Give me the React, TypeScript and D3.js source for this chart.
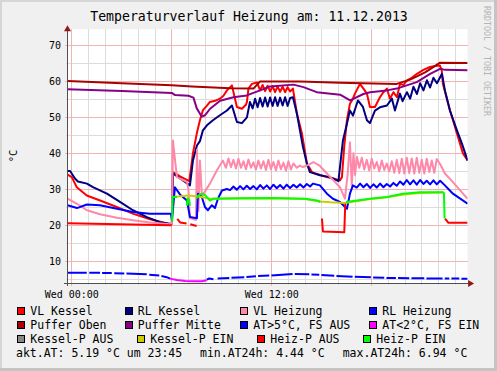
import React from 'react';
import * as d3 from 'd3';

// [hour since 11.12. 00:00, value] - null marks a gap (unknown)
type Pt = [number, number | null];

const title = 'Temperaturverlauf Heizung am: 11.12.2013';
const yTitle = '°C';
const watermark = 'RRDTOOL / TOBI OETIKER';
const timeDomain: [number, number] = [-0.25, 23.75]; // 10.12. 23:45 .. 11.12. 23:45
const valueDomain: [number, number] = [3.9, 74.5];
const yMajor = [10, 20, 30, 40, 50, 60, 70];
const xLabels: [number, string][] = [[0, 'Wed 00:00'], [12, 'Wed 12:00']];

const vlKessel: Pt[] = [
  [-0.25, 34.1], [0.0, 33.4], [0.3, 30.6], [0.9, 28.3], [1.7, 26.9], [2.7, 25.1], [3.7, 23.2], [4.7, 21.7],
  [5.9, 20.3], [6.0, 20.4], [6.07, 34.8], [6.5, 33.6], [7.05, 32.3], [7.27, 40.0], [7.5, 45.5], [7.69, 49.2],
  [7.87, 52.0], [8.1, 53.2], [8.29, 54.3], [8.6, 54.6], [8.89, 55.2], [9.1, 56.0], [9.31, 57.5], [9.61, 58.9],
  [9.75, 56.0], [9.91, 52.9], [10.21, 52.4], [10.45, 53.5], [10.51, 54.3], [10.6, 58.0], [10.81, 59.3],
  [11.11, 59.7], [11.3, 57.5], [11.45, 59.0], [11.6, 57.3], [11.75, 58.8], [11.9, 57.2], [12.05, 58.7],
  [12.2, 57.0], [12.35, 58.6], [12.5, 57.1], [12.65, 58.5], [12.8, 57.0], [12.95, 58.4], [13.1, 57.2],
  [13.27, 58.0], [13.51, 51.0], [13.81, 45.5], [14.11, 37.2], [14.41, 34.8], [14.9, 34.0], [15.31, 33.4],
  [15.7, 33.0], [16.09, 32.5], [16.21, 33.4], [16.35, 42.0], [16.51, 49.2], [16.69, 53.8], [16.85, 55.0],
  [16.99, 56.6], [17.29, 59.3], [17.5, 58.0], [17.71, 56.6], [17.89, 52.9], [18.19, 52.9], [18.49, 55.6],
  [18.7, 57.0], [18.91, 58.0], [19.09, 55.2], [19.3, 57.0], [19.51, 55.6], [19.69, 59.3], [19.9, 59.0],
  [20.11, 60.3], [20.4, 61.0], [20.71, 62.1], [21.1, 63.2], [21.49, 64.0], [21.8, 64.3], [22.09, 64.4],
  [22.2, 63.0], [22.27, 59.3], [22.69, 52.0], [23.11, 45.5], [23.47, 40.0], [23.75, 38.0],
];

const rlKessel: Pt[] = [
  [-0.25, 35.1], [-0.1, 35.1], [0.19, 33.0], [0.37, 32.2], [0.91, 31.6], [1.27, 30.6], [2.11, 28.8],
  [2.89, 26.5], [3.67, 24.2], [4.51, 22.3], [5.29, 20.9], [5.95, 20.4], [6.01, 20.6], [6.07, 34.4],
  [7.09, 31.1], [7.27, 38.0], [7.51, 42.2], [7.69, 43.4], [7.87, 46.4], [8.11, 47.8], [8.47, 49.2],
  [8.89, 50.6], [9.31, 51.9], [9.61, 53.3], [9.91, 48.7], [10.21, 48.4], [10.51, 50.0], [10.69, 54.3],
  [10.85, 52.5], [11.0, 55.2], [11.15, 52.8], [11.3, 55.4], [11.45, 53.0], [11.6, 55.5], [11.75, 53.0],
  [11.9, 55.5], [12.05, 53.2], [12.2, 55.6], [12.35, 53.2], [12.5, 55.5], [12.65, 53.3], [12.8, 55.6],
  [12.95, 53.2], [13.1, 55.4], [13.27, 55.6], [13.51, 51.0], [13.69, 46.4], [13.87, 41.8], [14.11, 37.1],
  [14.29, 34.8], [14.89, 33.9], [15.49, 33.4], [15.91, 32.5], [16.0, 32.3], [16.27, 43.6], [16.51, 48.2],
  [16.69, 51.9], [16.87, 50.5], [17.17, 54.7], [17.47, 52.9], [17.71, 49.2], [17.89, 48.4], [18.19, 51.9],
  [18.49, 52.8], [18.91, 53.3], [19.21, 55.2], [19.39, 51.9], [19.69, 56.6], [19.85, 54.5], [20.11, 57.0],
  [20.3, 55.2], [20.5, 58.5], [20.71, 56.5], [20.9, 59.5], [21.1, 57.5], [21.31, 60.3], [21.5, 58.3],
  [21.7, 61.0], [21.91, 59.5], [22.21, 62.1], [22.39, 57.5], [22.69, 51.9], [23.11, 46.4], [23.41, 42.7],
  [23.75, 38.0],
];

const vlHeizung: Pt[] = [
  [-0.25, 27.4], [0.31, 26.0], [0.91, 24.2], [1.69, 23.1], [2.71, 22.1], [3.67, 21.4], [4.69, 20.8],
  [5.89, 20.3], [6.01, 20.5], [6.07, 43.6], [6.2, 38.0], [6.31, 33.4], [6.91, 32.0], [7.0, 30.0],
  [7.09, 22.0], [7.45, 21.5], [7.51, 41.0], [7.6, 24.0], [7.69, 38.0], [7.81, 28.0], [8.0, 29.5],
  [8.29, 31.6], [8.71, 35.3], [9.07, 38.0], [9.25, 36.0], [9.4, 38.6], [9.55, 36.2], [9.7, 38.2],
  [9.85, 35.8], [10.0, 38.5], [10.15, 36.0], [10.3, 37.8], [10.45, 35.6], [10.6, 38.3], [10.75, 36.0],
  [10.9, 37.5], [11.05, 35.5], [11.2, 38.0], [11.35, 35.8], [11.5, 37.8], [11.65, 35.4], [11.8, 38.2],
  [11.95, 35.6], [12.1, 37.6], [12.25, 35.3], [12.4, 38.0], [12.55, 35.6], [12.7, 37.4], [12.85, 35.2],
  [13.0, 37.8], [13.15, 35.5], [13.3, 37.2], [13.5, 36.0], [13.69, 36.6], [13.87, 36.2], [14.2, 36.8],
  [14.5, 37.6], [14.89, 36.5], [15.31, 34.4], [15.7, 32.5], [16.09, 30.6], [16.39, 27.4], [16.55, 34.0],
  [16.69, 43.1], [16.8, 31.0], [16.9, 40.0], [17.0, 34.0], [17.11, 39.0], [17.25, 36.0], [17.4, 38.8],
  [17.55, 35.5], [17.7, 38.2], [17.85, 35.2], [18.0, 38.5], [18.15, 35.8], [18.3, 37.6], [18.45, 35.0],
  [18.6, 38.0], [18.75, 35.4], [18.9, 37.2], [19.05, 35.0], [19.2, 37.8], [19.35, 34.6], [19.5, 38.2],
  [19.65, 34.5], [19.8, 38.5], [19.95, 34.4], [20.1, 38.8], [20.25, 34.5], [20.4, 38.6], [20.55, 34.4],
  [20.7, 38.8], [20.85, 34.6], [21.0, 38.2], [21.15, 34.4], [21.3, 38.5], [21.45, 34.8], [21.6, 38.0],
  [21.75, 34.6], [21.9, 38.4], [22.09, 37.1], [22.39, 34.4], [22.87, 32.0], [23.75, 27.4],
];

const rlHeizung: Pt[] = [
  [-0.25, 25.6], [0.31, 24.8], [0.91, 25.8], [1.69, 25.6], [2.71, 24.6], [3.67, 23.7], [4.69, 23.2],
  [5.95, 23.2], [6.01, 21.4], [6.19, 30.6], [6.49, 28.6], [6.91, 26.9], [7.09, 22.3], [7.51, 22.0],
  [7.57, 28.8], [7.81, 27.8], [7.99, 25.1], [8.17, 24.2], [8.41, 25.6], [8.59, 24.8], [8.77, 27.4],
  [9.01, 29.7], [9.31, 30.1], [9.5, 29.8], [9.7, 30.8], [9.9, 29.9], [10.1, 30.9], [10.3, 30.0],
  [10.5, 31.0], [10.7, 30.1], [10.9, 30.9], [11.1, 30.0], [11.3, 31.2], [11.5, 30.2], [11.7, 31.1],
  [11.9, 30.1], [12.1, 31.3], [12.3, 30.3], [12.5, 31.2], [12.7, 30.2], [12.9, 31.3], [13.1, 30.4],
  [13.3, 31.3], [13.5, 30.5], [13.7, 31.4], [13.9, 30.5], [14.1, 31.5], [14.3, 30.8], [14.47, 31.6],
  [14.89, 31.1], [15.31, 28.8], [15.67, 27.4], [16.09, 26.5], [16.51, 24.6], [16.69, 28.8], [16.87, 31.1],
  [17.1, 30.5], [17.3, 31.6], [17.5, 30.6], [17.7, 31.5], [17.9, 30.4], [18.1, 31.4], [18.3, 30.5],
  [18.5, 31.6], [18.7, 30.6], [18.9, 31.5], [19.1, 30.8], [19.3, 31.8], [19.5, 31.0], [19.7, 32.2],
  [19.9, 31.3], [20.1, 32.6], [20.3, 31.4], [20.5, 32.5], [20.7, 31.3], [20.9, 32.6], [21.1, 31.5],
  [21.3, 32.4], [21.5, 31.4], [21.7, 32.5], [21.9, 31.4], [22.1, 32.4], [22.39, 31.1], [22.87, 28.8],
  [23.75, 26.0],
];

const pufferOben: Pt[] = [
  [-0.25, 60.1], [3.0, 59.5], [6.0, 58.9], [7.2, 58.6], [9.5, 58.1], [10.9, 58.0], [11.3, 60.0],
  [13.7, 60.0], [16.1, 59.6], [19.5, 59.3], [20.3, 60.5], [21.2, 62.5], [22.1, 65.2], [23.75, 65.1],
];

const pufferMitte: Pt[] = [
  [-0.25, 57.8], [3.0, 57.3], [6.0, 56.8], [6.2, 56.2], [7.0, 56.0], [7.3, 55.5], [7.5, 52.5],
  [7.8, 50.2], [8.0, 50.6], [8.3, 52.4], [8.9, 54.6], [9.7, 55.6], [10.5, 56.1], [11.3, 57.5],
  [11.9, 58.6], [13.3, 59.1], [13.9, 58.4], [14.7, 57.0], [16.1, 56.3], [16.7, 54.7], [17.5, 56.5],
  [17.9, 57.0], [18.9, 57.5], [19.5, 58.0], [20.7, 59.8], [21.5, 62.1], [22.1, 63.5], [22.4, 63.2],
  [23.75, 63.1],
];

// Aussentemperatur, split by state (gaps = unknown samples)
const atHigh: Pt[] = [
  [-0.25, 6.86], [0.9, 6.85], [0.97, null], [1.05, 6.82], [1.7, 6.8], [1.75, null], [1.82, 6.78],
  [2.4, 6.75], [2.47, null], [2.55, 6.72], [3.15, 6.65], [3.2, null], [3.28, 6.6], [4.5, 6.4],
  [4.57, null], [4.65, 6.3], [5.25, 6.05], [5.3, null], [5.38, 5.95], [5.7, 5.6], [5.9, 5.2], [5.95, null],
  [8.1, 4.9], [8.25, 5.25], [8.5, 5.0], [8.65, null], [8.75, 5.2], [9.45, 5.4], [9.5, null], [9.58, 5.45],
  [10.35, 5.6], [10.4, null], [10.48, 5.65], [11.05, 5.85], [11.1, null], [11.18, 5.9], [11.85, 6.05],
  [11.9, null], [11.98, 6.1], [13.25, 6.45], [13.3, null], [13.38, 6.5], [14.25, 6.4], [14.3, null],
  [14.38, 6.35], [14.85, 6.25], [14.9, null], [14.98, 6.2], [15.75, 6.0], [15.8, null], [15.88, 5.95],
  [16.85, 5.75], [16.9, null], [16.98, 5.7], [17.95, 5.55], [18.0, null], [18.08, 5.5], [18.75, 5.45],
  [18.8, null], [18.88, 5.4], [19.45, 5.38], [19.5, null], [19.58, 5.35], [20.25, 5.3], [20.3, null],
  [20.38, 5.3], [21.15, 5.27], [21.2, null], [21.28, 5.25], [22.25, 5.22], [22.3, null], [22.38, 5.22],
  [22.65, 5.2], [22.7, null], [22.78, 5.2], [23.25, 5.2], [23.3, null], [23.38, 5.19], [23.75, 5.19],
];
const atLow: Pt[] = [
  [5.9, 5.2], [6.3, 4.8], [6.8, 4.55], [7.4, 4.44], [7.8, 4.5], [8.1, 4.75],
];

const kesselPEin: Pt[] = [
  [6.05, 27.9], [7.0, 28.3], [7.6, 28.0], [8.3, 27.4], [12.0, 27.5], [14.0, 27.3], [14.9, 26.6],
  [15.5, 26.4], [16.4, 26.2], [17.9, 27.3], [18.9, 27.8], [19.9, 28.6], [20.9, 29.0], [22.3, 29.1],
];

const heizPAus: Pt[] = [
  [-0.25, 20.6], [5.95, 20.0], [6.0, 20.0], [6.02, null], [6.33, 21.8], [6.5, 20.8], [6.89, 20.5],
  [6.9, null], [7.11, 20.3], [7.49, 19.8], [7.5, null], [15.01, 21.9], [15.07, 18.3], [16.35, 18.1],
  [16.41, 26.0], [16.43, null], [22.4, 21.9], [22.6, 20.7], [23.75, 20.7],
];
const heizPEin: Pt[] = [
  [6.02, 21.0], [6.05, 27.9], [6.31, 27.9], [6.32, null], [6.91, 25.5], [6.95, 27.5], [7.05, 27.0],
  [7.09, 25.5], [7.1, null], [7.51, 27.5], [7.6, 28.3], [7.81, 28.8], [8.0, 28.4], [8.29, 26.9],
  [8.5, 27.4], [10.0, 27.5], [12.0, 27.6], [14.0, 27.4], [14.71, 26.9], [14.92, 26.5], [14.95, null],
  [16.45, 26.5], [17.89, 27.4], [18.91, 27.9], [19.87, 28.8], [20.89, 29.2], [22.27, 29.2],
  [22.33, 29.0], [22.37, 21.9],
];

const colors = {
  vlKessel: '#FF0000', rlKessel: '#000080', vlHeizung: '#FF88AA', rlHeizung: '#0000FF',
  pufferOben: '#AA0000', pufferMitte: '#880088', atHigh: '#0000FF', atLow: '#FF00FF',
  kesselPAus: '#888888', kesselPEin: '#CCCC00', heizPAus: '#FF0000', heizPEin: '#00FF00',
};

const series: [Pt[], string][] = [
  [vlKessel, colors.vlKessel], [rlKessel, colors.rlKessel], [vlHeizung, colors.vlHeizung],
  [rlHeizung, colors.rlHeizung], [pufferOben, colors.pufferOben], [pufferMitte, colors.pufferMitte],
  [atHigh, colors.atHigh], [atLow, colors.atLow], [kesselPEin, colors.kesselPEin],
  [heizPAus, colors.heizPAus], [heizPEin, colors.heizPEin],
];

const legendRows: [string, string][][] = [
  [['VL Kessel', colors.vlKessel], ['RL Kessel', colors.rlKessel], ['VL Heizung', colors.vlHeizung], ['RL Heizung', colors.rlHeizung]],
  [['Puffer Oben', colors.pufferOben], ['Puffer Mitte', colors.pufferMitte], ['AT>5°C, FS AUS', colors.atHigh], ['AT<2°C, FS EIN', colors.atLow]],
  [['Kessel-P AUS', colors.kesselPAus], ['Kessel-P EIN', colors.kesselPEin], ['Heiz-P AUS', colors.heizPAus], ['Heiz-P EIN', colors.heizPEin]],
];
const aktAT = 5.19;
const aktTime = '23:45';
const minAT = 4.44;
const maxAT = 6.94;

const FONT = '"DejaVu Sans Mono", monospace';

const App: React.FC = () => {
  const W = 497;
  const H = 371;
  const left = 67.6, right = 467.6, top = 29.2, bottom = 283.3;

  const x = d3.scaleLinear().domain(timeDomain).range([left, right]);
  const y = d3.scaleLinear().domain(valueDomain).range([bottom, top]);
  const line = d3.line<Pt>()
    .defined(d => d[1] !== null)
    .x(d => x(d[0]))
    .y(d => y(d[1] as number));

  const px = (v: number) => Math.floor(v) + 0.5;
  const hours = d3.range(0, 24);
  const fives = d3.range(5, 75, 5);

  const swatchX = [
    [17, 124.5, 240, 369],
    [17, 124.5, 240, 369],
    [17, 137, 257, 363],
  ];
  const rowY = [315, 329, 343.3];

  return (
    <svg width={W} height={H} style={{ position: 'absolute', left: 0, top: 0 }} fontFamily={FONT}>
      <rect x={0} y={0} width={W} height={H} fill="#F0F0F0" />
      <rect x={0} y={0} width={W} height={2} fill="#D6D6D6" />
      <rect x={0} y={0} width={2} height={H} fill="#D6D6D6" />
      <rect x={W - 3} y={0} width={3} height={H} fill="#C4C4C4" />
      <rect x={0} y={H - 3} width={W} height={3} fill="#C4C4C4" />

      <text x={249} y={21} fontSize={13.2} textAnchor="middle" fill="#000">{title}</text>
      <text transform={`translate(483.5,6) rotate(90)`} fontSize={8.3} fill="#B4B4B4">{watermark}</text>

      <rect x={left} y={top} width={right - left} height={bottom - top} fill="#FFFFFF" />

      {/* minor grid */}
      <g stroke="#DCDCDC" strokeWidth={1} shapeRendering="crispEdges">
        {hours.filter(h => h % 6 !== 0).map(h => (
          <line key={'vh' + h} x1={px(x(h))} x2={px(x(h))} y1={top} y2={bottom + 2} />
        ))}
        {fives.filter(v => v % 10 !== 0).map(v => (
          <line key={'hv' + v} x1={left - 2} x2={right} y1={px(y(v))} y2={px(y(v))} />
        ))}
      </g>
      {/* major grid */}
      <g stroke="#F0B4B4" strokeWidth={1} shapeRendering="crispEdges">
        {hours.filter(h => h % 6 === 0).map(h => (
          <line key={'Vh' + h} x1={px(x(h))} x2={px(x(h))} y1={top} y2={bottom + 3} />
        ))}
        {yMajor.map(v => (
          <line key={'Hv' + v} x1={left - 3} x2={right} y1={px(y(v))} y2={px(y(v))} />
        ))}
      </g>

      <defs>
        <clipPath id="plot">
          <rect x={left} y={top} width={right - left} height={bottom - top} />
        </clipPath>
      </defs>
      <g clipPath="url(#plot)" fill="none" strokeWidth={2} strokeLinejoin="round">
        {series.map(([d, c], i) => (
          <path key={i} d={line(d) || ''} stroke={c} />
        ))}
      </g>

      {/* axes */}
      <g stroke="#505050" strokeWidth={1} shapeRendering="crispEdges">
        <line x1={left - 4} x2={right + 2} y1={px(bottom)} y2={px(bottom)} />
        <line x1={px(left)} x2={px(left)} y1={bottom + 3} y2={top} />
      </g>
      <path d={`M${right + 0.5},${px(bottom) - 3.5} L${right + 6.5},${px(bottom)} L${right + 0.5},${px(bottom) + 3.5} Z`} fill="#8B1A1A" />
      <path d={`M${px(left) - 3.5},${top + 2} L${px(left)},${top - 4} L${px(left) + 3.5},${top + 2} Z`} fill="#8B1A1A" />

      {yMajor.map(v => (
        <text key={'yl' + v} x={61} y={y(v) + 3.6} fontSize={10} textAnchor="end" fill="#000">{v}</text>
      ))}
      {xLabels.map(([t, label]) => (
        <text key={label} x={x(t)} y={297.5} fontSize={10} textAnchor="middle" fill="#000">{label}</text>
      ))}
      <text transform="translate(17.3,156) rotate(-90)" fontSize={10.5} textAnchor="middle" fill="#000">{yTitle}</text>

      {legendRows.map((row, r) => row.map(([name, c], i) => (
        <g key={name}>
          <rect x={swatchX[r][i] + 0.5} y={rowY[r] - 7.5} width={7} height={7} fill={c} stroke="#000" strokeWidth={1} shapeRendering="crispEdges" />
          <text x={swatchX[r][i] + 13.3} y={rowY[r]} fontSize={11.5} fill="#000">{name}</text>
        </g>
      )))}
      <text x={16} y={356.7} fontSize={11.5} fill="#000">{`akt.AT: ${aktAT.toFixed(2)} °C um ${aktTime}`}</text>
      <text x={200} y={356.7} fontSize={11.5} fill="#000">{`min.AT24h: ${minAT.toFixed(2)} °C`}</text>
      <text x={342.7} y={356.7} fontSize={11.5} fill="#000">{`max.AT24h: ${maxAT.toFixed(2)} °C`}</text>
    </svg>
  );
};

export default App;
